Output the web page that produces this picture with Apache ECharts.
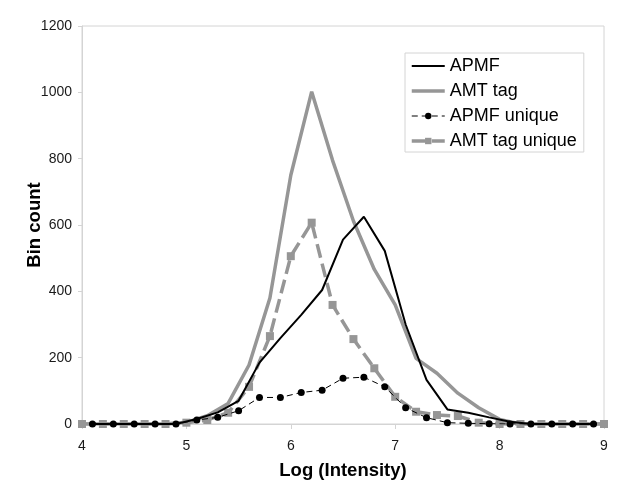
<!DOCTYPE html>
<html><head><meta charset="utf-8">
<script src="https://cdn.jsdelivr.net/npm/echarts@6/dist/echarts.min.js"></script>
<style>html,body{margin:0;padding:0;background:#fff}#c{width:631px;height:496px}</style>
</head><body><div id="c"></div>
<script>
const seriesNames = ['APMF', 'AMT tag', 'APMF unique', 'AMT tag unique'];
const xOdd = [4.1,4.3,4.5,4.7,4.9,5.1,5.3,5.5,5.7,5.9,6.1,6.3,6.5,6.7,6.9,7.1,7.3,7.5,7.7,7.9,8.1,8.3,8.5,8.7,8.9];
const xEven = [4.0,4.2,4.4,4.6,4.8,5.0,5.2,5.4,5.6,5.8,6.0,6.2,6.4,6.6,6.8,7.0,7.2,7.4,7.6,7.8,8.0,8.2,8.4,8.6,8.8,9.0];
const apmf = [0,0,0,0,0,15,35,70,185,259,329,404,556,625,522,300,133,44,34,20,7,0,0,0,0];
const amtTag = [0,0,0,0,0,5,25,62,178,380,750,1002,795,612,466,359,198,153,93,49,14,0,0,0,0,0];
const apmfUnique = [0,0,0,0,0,12,20,40,80,80,95,102,138,141,112,49,19,4,2,1,0,0,0,0,0];
const amtTagUnique = [0,0,0,0,0,4,12,34,112,265,506,607,359,256,168,82,37,27,24,4,0,0,0,0,0,0];
const yTicks = [0,200,400,600,800,1000,1200];
const xTicks = [4,5,6,7,8,9];

const pair = (xs, ys) => xs.map((x, i) => [x, ys[i]]);
const FONT = 'Liberation Sans, Arial, sans-serif';
const chart = echarts.init(document.getElementById('c'));
chart.setOption({
  animation: false,
  backgroundColor: '#fff',
  grid: { left: 82, right: 27, top: 26, bottom: 72, show: true, borderColor: '#d4d4d4', borderWidth: 1 },
  xAxis: {
    type: 'value', min: xTicks[0], max: xTicks[xTicks.length-1], interval: 1,
    name: 'Log (Intensity)', nameLocation: 'middle', nameGap: 37, nameMoveOverlap: false,
    nameTextStyle: { fontFamily: FONT, fontSize: 18.5, fontWeight: 'bold', color: '#000' },
    axisLine: { show: true, lineStyle: { color: '#d4d4d4', width: 1 } },
    axisTick: { show: true, length: 5, lineStyle: { color: '#d4d4d4' } },
    axisLabel: { fontFamily: FONT, fontSize: 14, color: '#1a1a1a', margin: 15 },
    splitLine: { show: false }
  },
  yAxis: {
    type: 'value', min: yTicks[0], max: yTicks[yTicks.length-1], interval: 200,
    name: 'Bin count', nameLocation: 'middle', nameGap: 38, nameRotate: 90, nameMoveOverlap: false,
    nameTextStyle: { fontFamily: FONT, fontSize: 18.5, fontWeight: 'bold', color: '#000' },
    axisLine: { show: true, lineStyle: { color: '#d4d4d4', width: 1 } },
    axisTick: { show: true, length: 4, lineStyle: { color: '#d4d4d4' } },
    axisLabel: { fontFamily: FONT, fontSize: 14, color: '#1a1a1a', margin: 10, formatter: v => String(v) },
    splitLine: { show: false }
  },
  legend: {
    orient: 'vertical', left: 405, top: 53,
    padding: [4, 7, 2, 5], itemGap: 7, itemWidth: 33, itemHeight: 8,
    borderColor: '#d4d4d4', borderWidth: 1, backgroundColor: '#fff',
    textStyle: { fontFamily: FONT, fontSize: 18, color: '#000' },
    data: [
      { name: seriesNames[0], itemStyle: { opacity: 0 }, lineStyle: { width: 2 } },
      { name: seriesNames[1], itemStyle: { opacity: 0 }, lineStyle: { width: 3.5 } },
      { name: seriesNames[2], lineStyle: { width: 1 } },
      { name: seriesNames[3], lineStyle: { width: 3.5 } }
    ]
  },
  series: [
    { name: seriesNames[0], type: 'line', data: pair(xOdd, apmf), showSymbol: false, symbol: 'none',
      lineStyle: { color: '#000', width: 2 }, itemStyle: { color: '#000' }, z: 4 },
    { name: seriesNames[1], type: 'line', data: pair(xEven, amtTag), showSymbol: false, symbol: 'none',
      lineStyle: { color: '#969696', width: 3.5 }, itemStyle: { color: '#969696' }, z: 2 },
    { name: seriesNames[2], type: 'line', data: pair(xOdd, apmfUnique), symbol: 'circle', symbolSize: 7,
      lineStyle: { color: '#000', width: 1, type: [6, 4] }, itemStyle: { color: '#000' }, z: 5 },
    { name: seriesNames[3], type: 'line', data: pair(xEven, amtTagUnique), symbol: 'rect', symbolSize: 8,
      lineStyle: { color: '#969696', width: 3.5, type: [14, 6] }, itemStyle: { color: '#969696' }, z: 3 }
  ]
});
</script></body></html>
